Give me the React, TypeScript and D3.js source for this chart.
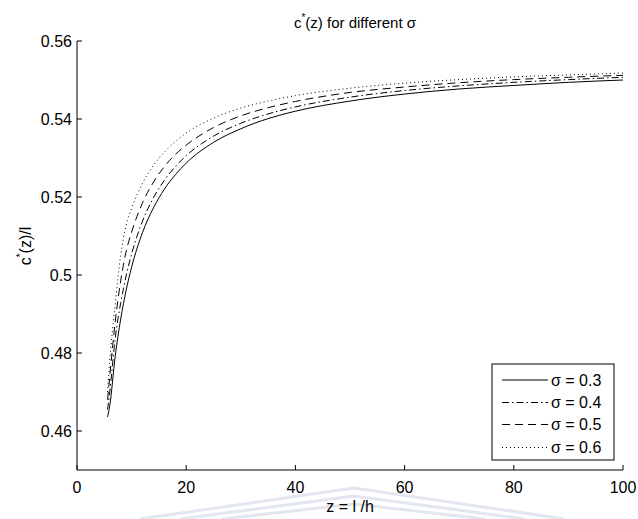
import React from "react";
import * as d3 from "d3";

const zValues = [5.6, 6, 7, 8, 9, 10, 12, 14, 16, 18, 20, 25, 30, 35, 40, 50, 60, 70, 80, 90, 100];
const sigma03 = [0.4636, 0.4665, 0.4792, 0.4887, 0.4961, 0.502, 0.5109, 0.5172, 0.522, 0.5257, 0.5287, 0.534, 0.5375, 0.5401, 0.542, 0.5446, 0.5464, 0.5477, 0.5486, 0.5494, 0.55];
const sigma04 = [0.4655, 0.47, 0.4838, 0.4928, 0.4998, 0.5054, 0.5138, 0.5198, 0.5243, 0.5278, 0.5306, 0.5356, 0.5389, 0.5413, 0.5431, 0.5456, 0.5473, 0.5485, 0.5494, 0.5501, 0.5507];
const sigma05 = [0.468, 0.474, 0.488, 0.4985, 0.506, 0.511, 0.5185, 0.5238, 0.5278, 0.5309, 0.5333, 0.5378, 0.5408, 0.5429, 0.5445, 0.5468, 0.5482, 0.5493, 0.5501, 0.5507, 0.5512];
const sigma06 = [0.47, 0.478, 0.4925, 0.505, 0.5128, 0.5171, 0.5235, 0.5281, 0.5315, 0.5342, 0.5364, 0.5402, 0.5428, 0.5446, 0.546, 0.5479, 0.5492, 0.5501, 0.5508, 0.5513, 0.5518];
const seriesLabels = ["σ = 0.3", "σ = 0.4", "σ = 0.5", "σ = 0.6"];
const xTicks = [0, 20, 40, 60, 80, 100];
const yTicks = [0.46, 0.48, 0.5, 0.52, 0.54, 0.56];

const dashes = [null, "7,3,1.5,3", "8,5", "1,3"];

export default function App() {
  const W = 638, H = 519;
  const left = 77, right = 623, top = 41, bottom = 470;
  const x = d3.scaleLinear().domain([0, 100]).range([left, right]);
  const y = d3.scaleLinear().domain([0.45, 0.56]).range([bottom, top]);
  const all = [sigma03, sigma04, sigma05, sigma06];
  const line = d3
    .line<number>()
    .x((_, i) => x(zValues[i]))
    .y((d) => y(d))
    .curve(d3.curveMonotoneX);
  const font = "'Liberation Sans', Arial, Helvetica, sans-serif";
  const fs = 16;
  const legX = 492, legY = 364, legW = 122, legH = 96;
  const rowY = [380, 402.5, 424.5, 447.5];
  return (
    <svg width={W} height={H} style={{ position: "absolute", left: 0, top: 0, background: "#fff" }} fontFamily={font}>
      <rect width={W} height={H} fill="#fff" />
      {/* faint watermark */}
      <g fill="none" stroke="#e2e6ee" strokeWidth={3}>
        <polyline points="140,519 354,488 565,519" />
        <polyline points="180,519 354,496 525,519" />
        <polyline points="222,519 354,504 485,519" />
      </g>
      {/* axes */}
      <line x1={left} y1={top} x2={left} y2={bottom} stroke="#000" strokeWidth={1} />
      <line x1={left} y1={bottom} x2={right} y2={bottom} stroke="#000" strokeWidth={1} />
      {yTicks.map((t) => (
        <g key={"y" + t}>
          <line x1={left} x2={left + 5} y1={y(t)} y2={y(t)} stroke="#000" />
          <text x={left - 5} y={y(t) + 5.5} fontSize={fs} textAnchor="end">
            {d3.format("")(t)}
          </text>
        </g>
      ))}
      {xTicks.map((t) => (
        <g key={"x" + t}>
          <line x1={x(t)} x2={x(t)} y1={bottom} y2={bottom - 5} stroke="#000" />
          <text x={x(t)} y={bottom + 23} fontSize={fs} textAnchor="middle">
            {t}
          </text>
        </g>
      ))}
      {/* curves */}
      {all.map((s, i) => (
        <path
          key={i}
          d={line(s) || ""}
          fill="none"
          stroke="#000"
          strokeWidth={1}
          strokeDasharray={dashes[i] || undefined}
        />
      ))}
      {/* title */}
      <text x={355} y={28} fontSize={15} textAnchor="middle">
        c<tspan fontSize={10} dy={-7}>*</tspan>
        <tspan dy={7}>(z) for different σ</tspan>
      </text>
      {/* x label */}
      <text x={(left + right) / 2} y={512} fontSize={fs} textAnchor="middle">
        z = l /h
      </text>
      {/* y label */}
      <text
        transform={`translate(31,246) rotate(-90)`}
        fontSize={fs}
        textAnchor="middle"
      >
        c<tspan fontSize={10} dy={-7}>*</tspan>
        <tspan dy={7}>(z)/l</tspan>
      </text>
      {/* legend */}
      <rect x={legX} y={legY} width={legW} height={legH} fill="#fff" stroke="#000" strokeWidth={1} />
      {seriesLabels.map((lab, i) => (
        <g key={lab}>
          <line
            x1={legX + 10}
            x2={legX + 56}
            y1={rowY[i]}
            y2={rowY[i]}
            stroke="#000"
            strokeWidth={1}
            strokeDasharray={dashes[i] || undefined}
          />
          <text x={legX + 59} y={rowY[i] + 5.5} fontSize={fs}>
            {lab}
          </text>
        </g>
      ))}
    </svg>
  );
}
